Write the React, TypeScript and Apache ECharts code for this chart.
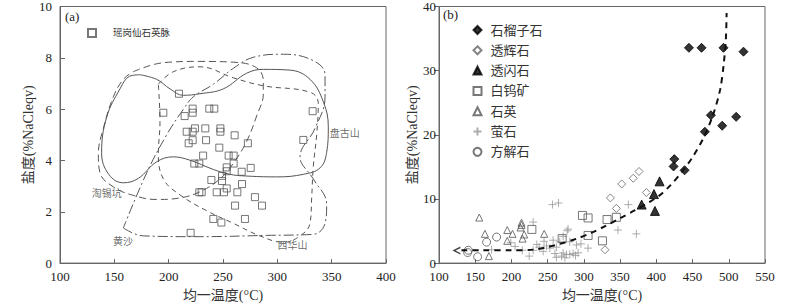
import React, { useEffect, useRef } from "react";
import * as echarts from "echarts";

// ---------- Panel (a) data ----------
const quartzVein: number[][] = [
  [209.5, 6.6], [195.1, 5.86], [214.7, 5.73], [222.1, 6.02], [222.1, 5.86], [237.4, 6.02], [242.0, 6.02],
  [216.6, 5.12], [222.1, 5.12], [224.2, 5.25], [233.7, 5.25], [218.4, 4.67], [222.1, 4.79], [234.4, 4.79],
  [247.6, 5.25], [247.6, 5.12], [260.7, 4.98], [246.6, 4.5], [272.9, 4.67], [231.7, 4.19], [223.6, 3.88],
  [228.2, 3.88], [255.2, 4.19], [259.8, 4.19], [259.8, 3.88], [253.4, 3.73], [253.4, 3.58], [275.5, 3.71],
  [267.2, 3.56], [249.1, 3.4], [239.3, 3.24], [249.1, 3.2], [253.4, 2.91], [267.5, 3.08], [228.2, 2.76],
  [230.4, 2.76], [244.2, 2.76], [250.9, 2.76], [263.2, 2.76], [279.4, 2.57], [285.9, 2.24], [261.1, 2.24],
  [241.1, 1.72], [248.5, 1.58], [270.2, 1.72], [220.2, 1.18], [323.9, 4.8], [332.5, 5.92],
];

const panguShan: number[][] = [
  [173.6, 7.34], [189.0, 7.16], [201.2, 6.79], [213.5, 6.54], [228.8, 6.6], [250.3, 6.79], [271.8, 7.4],
  [287.1, 7.55], [311.7, 7.52], [330.1, 7.16], [342.3, 6.29], [346.9, 5.31], [345.4, 4.32], [339.3, 3.71],
  [323.9, 3.46], [299.4, 3.36], [268.7, 3.4], [256.4, 3.46], [241.1, 3.65], [219.6, 4.01], [204.3, 4.14],
  [189.0, 3.95], [172.0, 3.3], [158.3, 3.13], [145.0, 3.45], [138.3, 4.3], [142.9, 5.68], [155.2, 6.79],
  [164.0, 7.28], [173.6, 7.34],
];

const taoXiKeng: number[][] = [
  [167.5, 7.46], [195.1, 7.81], [228.8, 7.86], [259.5, 7.83], [281.0, 7.61], [287.1, 7.09], [287.1, 6.6],
  [281.0, 5.74], [271.8, 4.75], [259.5, 3.89], [247.2, 3.28], [228.8, 2.78], [210.4, 2.54], [189.0, 2.48],
  [167.5, 2.64], [149.1, 2.97], [136.8, 3.52], [135.3, 4.26], [139.9, 5.25], [149.1, 6.48], [158.3, 7.16],
  [167.5, 7.46],
];

const xiHuaShan: number[][] = [
  [190.5, 6.97], [204.3, 7.46], [228.8, 7.65], [259.5, 7.22], [287.1, 6.91], [330.1, 6.66], [337.7, 6.23],
  [336.2, 5.0], [333.1, 3.77], [331.6, 2.54], [330.1, 1.55], [320.9, 1.06], [305.5, 0.81], [284.0, 1.06],
  [259.5, 1.55], [235.0, 2.04], [210.4, 2.66], [195.1, 3.28], [190.5, 4.26], [192.0, 5.49], [190.5, 6.97],
];

const huangSha: number[][] = [
  [158.3, 1.37], [176.7, 1.06], [228.8, 1.03], [290.2, 1.08], [333.1, 1.12], [343.9, 1.55], [345.4, 2.29],
  [333.1, 3.28], [320.9, 4.14], [334.7, 5.25], [343.9, 6.48], [343.9, 7.34], [333.1, 7.89], [305.5, 8.14],
  [277.9, 8.02], [259.5, 7.59], [241.1, 6.97], [222.7, 6.48], [213.5, 5.99], [198.2, 5.0], [179.8, 3.52],
  [158.3, 1.37],
];

const fieldLabels = [
  { name: "盘古山", value: [362, 5.04] },
  { name: "淘锡坑", value: [143, 2.71] },
  { name: "黄沙", value: [158, 0.86] },
  { name: "西华山", value: [314, 0.68] },
];

// ---------- Panel (b) data ----------
const garnet: number[][] = [
  [445.0, 33.56], [462.4, 33.56], [492.7, 33.56], [520.3, 32.96], [475.3, 23.05], [510.2, 22.8],
  [467.0, 20.47], [490.9, 21.41], [424.8, 16.21], [423.8, 15.07], [439.0, 14.47],
];
const diopside: number[][] = [
  [368.1, 13.23], [376.1, 14.28], [352.2, 12.34], [336.6, 10.16], [386.2, 11.0], [344.8, 8.53], [329.2, 2.08],
];
const tremolite: number[][] = [[404.5, 12.74], [396.7, 10.76], [379.7, 9.12], [398.1, 8.13]];
const scheelite: number[][] = [
  [298.0, 7.43], [305.8, 7.04], [332.0, 6.79], [344.8, 7.14], [305.8, 4.31], [325.6, 3.47], [228.2, 5.25], [270.0, 3.82],
];
const quartz: number[][] = [
  [155.6, 7.1], [163.4, 4.56], [168.9, 1.09], [194.2, 5.15], [201.5, 4.56], [194.2, 3.47], [213.9, 6.3],
  [213.9, 5.95], [212.5, 5.55], [217.6, 4.46], [215.3, 3.82], [245.2, 4.56],
];
const fluorite: number[][] = [
  [256.6, 9.12], [264.9, 9.37], [361.4, 9.12], [347.1, 5.15], [372.4, 4.56], [230.0, 6.4], [278.2, 5.3],
  [305.8, 2.33], [199.2, 3.17], [172.6, 2.08], [224.5, 1.09], [238.3, 2.48], [243.8, 1.83], [248.4, 2.68],
  [253.0, 2.33], [257.5, 3.57], [262.1, 2.48], [266.7, 3.32], [269.1, 1.09], [271.4, 1.58], [273.7, 0.84],
  [276.0, 1.34], [280.5, 1.34], [285.1, 1.49], [288.4, 1.19], [271.4, 4.16], [276.9, 5.05], [280.5, 3.32],
  [289.7, 2.83], [230.0, 2.0], [205.0, 2.6], [215.0, 2.0], [235.0, 2.9], [245.0, 3.4], [260.0, 1.5],
  [262.0, 0.9], [292.0, 1.6], [296.0, 3.0],
];
const calcite: number[][] = [[140.4, 2.0], [139.5, 1.65], [153.3, 0.99], [165.7, 3.27], [179.5, 4.06]];
const trendCurve: number[][] = [
  [131, 2.0], [160, 2.0], [200, 2.0], [230, 2.1], [250, 2.5], [270, 3.1], [290, 3.8], [310, 4.7],
  [330, 5.8], [350, 7.0], [370, 8.2], [390, 9.5], [405, 10.6], [420, 12.2], [435, 14.2], [450, 16.5],
  [465, 19.5], [478, 23], [488, 27], [493, 31], [496, 35], [497, 39],
];
const trendArrow: number[][] = [[124, 1.95]];

const legendB = ["石榴子石", "透辉石", "透闪石", "白钨矿", "石英", "萤石", "方解石"];

const FONT = "Liberation Serif, Noto Sans CJK SC, serif";
const AXIS_COLOR = "#666";
const TEXT_COLOR = "#333";
const OPEN = "rgba(0,0,0,0)";
const PLUS = "path://M5,0L5,10M0,5L10,5";
const CHEVRON = "path://M10,0L0,5L10,10L10,8L3.8,5L10,2Z";

function xAxisCfg(grid: number, min: number, max: number, inside: boolean) {
  return {
    type: "value", gridIndex: grid, min, max, interval: 50,
    name: "均一温度(°C)", nameLocation: "middle", nameGap: 20,
    nameTextStyle: { fontSize: 14, color: TEXT_COLOR, fontFamily: FONT },
    axisLine: { show: true, lineStyle: { color: AXIS_COLOR } },
    axisTick: { show: true, inside, length: 4, lineStyle: { color: AXIS_COLOR } },
    splitLine: { show: false },
    axisLabel: { fontSize: 13, color: "#222", fontFamily: FONT, margin: 7 },
  };
}
function yAxisCfg(grid: number, max: number, interval: number, inside: boolean, gap: number) {
  return {
    type: "value", gridIndex: grid, min: 0, max, interval,
    name: "盐度(%NaCleqv)", nameLocation: "middle", nameGap: gap,
    nameTextStyle: { fontSize: 14, color: TEXT_COLOR, fontFamily: FONT },
    axisLine: { show: true, lineStyle: { color: AXIS_COLOR } },
    axisTick: { show: true, inside, length: 5, lineStyle: { color: AXIS_COLOR } },
    splitLine: { show: false },
    axisLabel: { fontSize: 13, color: "#222", fontFamily: FONT, margin: inside ? 8 : 3 },
  };
}
function field(data: number[][], type: any) {
  return {
    type: "line", xAxisIndex: 0, yAxisIndex: 0, data, smooth: 0.4, showSymbol: false, silent: true,
    lineStyle: { color: "#555", width: 1, type },
  };
}
function pts(name: string, data: number[][], symbol: string, size: number, fill: string, stroke: string) {
  return {
    name, type: "scatter", xAxisIndex: 1, yAxisIndex: 1, data, symbol, symbolSize: size,
    itemStyle: { color: fill, borderColor: stroke, borderWidth: 1 },
  };
}

export default function App() {
  const ref = useRef<HTMLDivElement>(null);
  useEffect(() => {
    if (!ref.current) return;
    const chart = echarts.init(ref.current, undefined, { renderer: "svg" });
    chart.setOption({
      animation: false,
      textStyle: { fontFamily: FONT },
      grid: [
        { left: 60, top: 4.7, width: 326, height: 270.6, show: true, borderColor: AXIS_COLOR, borderWidth: 1, backgroundColor: "transparent" },
        { left: 439, top: 5, width: 326, height: 269, show: true, borderColor: AXIS_COLOR, borderWidth: 1, backgroundColor: "transparent" },
      ],
      xAxis: [xAxisCfg(0, 100, 400, true), xAxisCfg(1, 100, 550, true)],
      yAxis: [yAxisCfg(0, 10, 2, true, 18), yAxisCfg(1, 40, 10, false, 20)],
      legend: [
        {
          data: ["瑶岗仙石英脉"], left: 82, top: 23, itemWidth: 8, itemHeight: 8,
          textStyle: { fontSize: 9.5, color: "#333", fontFamily: FONT, padding: [0, 0, 0, 12] },
        },
        {
          data: legendB, orient: "vertical", left: 466, top: 18, itemGap: 6.3, itemWidth: 8, itemHeight: 8,
          textStyle: { fontSize: 13, lineHeight: 14, color: "#333", fontFamily: FONT, padding: [0, 0, 0, 4] },
        },
      ],
      graphic: [
        { type: "text", left: 65, top: 10, style: { text: "(a)", fontSize: 13, fill: "#222", fontFamily: FONT } },
        { type: "text", left: 443, top: 8, style: { text: "(b)", fontSize: 13, fill: "#222", fontFamily: FONT } },
      ],
      series: [
        field(panguShan, "solid"),
        field(taoXiKeng, [7, 4]),
        field(xiHuaShan, [5, 4]),
        field(huangSha, [10, 3, 2, 3]),
        {
          name: "瑶岗仙石英脉", type: "scatter", xAxisIndex: 0, yAxisIndex: 0, data: quartzVein,
          symbol: "rect", symbolSize: 7, itemStyle: { color: OPEN, borderColor: "#555", borderWidth: 1 },
        },
        {
          type: "scatter", xAxisIndex: 0, yAxisIndex: 0, data: fieldLabels, symbolSize: 0, silent: true,
          label: { show: true, formatter: "{b}", position: "inside", fontSize: 10, color: "#444", fontFamily: FONT },
        },
        {
          type: "line", xAxisIndex: 1, yAxisIndex: 1, data: trendCurve, smooth: 0.3, showSymbol: false, silent: true,
          lineStyle: { color: "#111", width: 2, type: [6, 5] },
        },
        {
          type: "scatter", xAxisIndex: 1, yAxisIndex: 1, data: trendArrow, symbol: CHEVRON, symbolSize: [8, 8],
          itemStyle: { color: "#111" }, silent: true,
        },
        pts("萤石", fluorite, PLUS, 8, "none", "#999"),
        pts("石英", quartz, "triangle", 7, OPEN, "#555"),
        pts("方解石", calcite, "circle", 8, OPEN, "#555"),
        pts("白钨矿", scheelite, "rect", 8, OPEN, "#555"),
        pts("透辉石", diopside, "diamond", 8, OPEN, "#666"),
        pts("透闪石", tremolite, "triangle", 9, "#000", "#000"),
        pts("石榴子石", garnet, "diamond", 9, "#000", "#000"),
      ],
    });
    return () => chart.dispose();
  }, []);
  return <div ref={ref} style={{ position: "absolute", left: 0, top: 0, width: 800, height: 307 }} />;
}
